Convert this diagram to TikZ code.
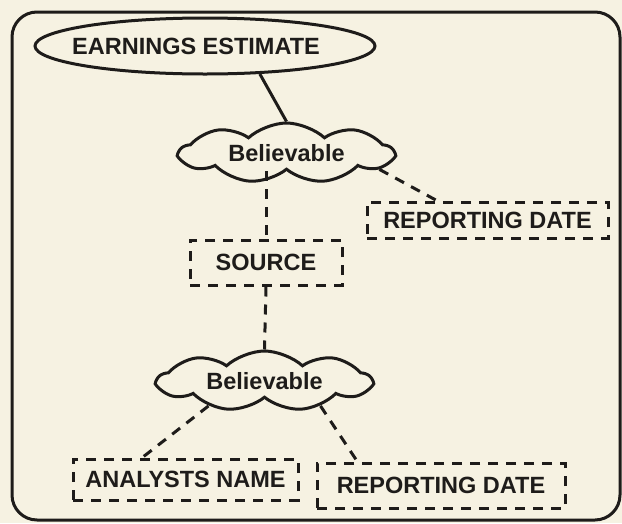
\documentclass[tikz,border=0pt]{standalone}
\usepackage{fontspec}
\setmainfont{Liberation Sans}
\usetikzlibrary{shapes.geometric,shapes.symbols}
\definecolor{bgcream}{RGB}{246,242,226}
\definecolor{inkdark}{RGB}{30,28,26}

\begin{document}
\begin{tikzpicture}
			[x=1pt,y=-1pt,line width=3pt,draw=inkdark,
			every node/.style={font=\fontsize{23.5}{28}\selectfont\bfseries,text=inkdark},
			entity/.style={draw,ellipse,inner sep=0pt,minimum width=340pt,minimum height=56pt},
			belief/.style={draw,cloud,cloud puffs=9,cloud puff arc=85,cloud ignores aspect,inner sep=0pt,minimum width=213pt,minimum height=60pt},
			attrbox/.style={draw,dashed,dash pattern=on 10pt off 8pt,rectangle,inner sep=0pt},
			link/.style={dashed,dash pattern=on 10pt off 8pt},]
			\fill[bgcream] (0,0) rectangle (622,523);
			\useasboundingbox (0,0) rectangle (622,523);
			\draw[rounded corners=25pt] (12,12) rectangle (620,520);
			\node (est) at (205,46)[entity]{\hspace*{-18pt}EARNINGS ESTIMATE};
			\node (belA) at (286.5,153)[belief]{Believable};
			\node (repA) at (487.5,220)[attrbox,minimum width=241pt,minimum height=36pt]{REPORTING DATE};
			\node (src) at (266,262.5)[attrbox,minimum width=152pt,minimum height=45pt]{SOURCE};
			\node (belB) at (264.5,381)[belief]{Believable};
			\node (ana) at (185.5,479.5)[attrbox,minimum width=225pt,minimum height=41pt]{ANALYSTS NAME};
			\node (repB) at (441,485.5)[attrbox,minimum width=248pt,minimum height=45pt]{REPORTING DATE};
			\draw (est.-27) -- (belA.north);
			\draw[link] (belA.-10) -- (repA.159);
			\draw[link] (belA.south -| src.north) -- (src.north);
			\draw[link] (src.south) -- (belB.north);
			\draw[link] (belB.204) -- (ana.153);
			\draw[link] (belB.-24) -- (repB.164);
	\end{tikzpicture}
\end{document}
